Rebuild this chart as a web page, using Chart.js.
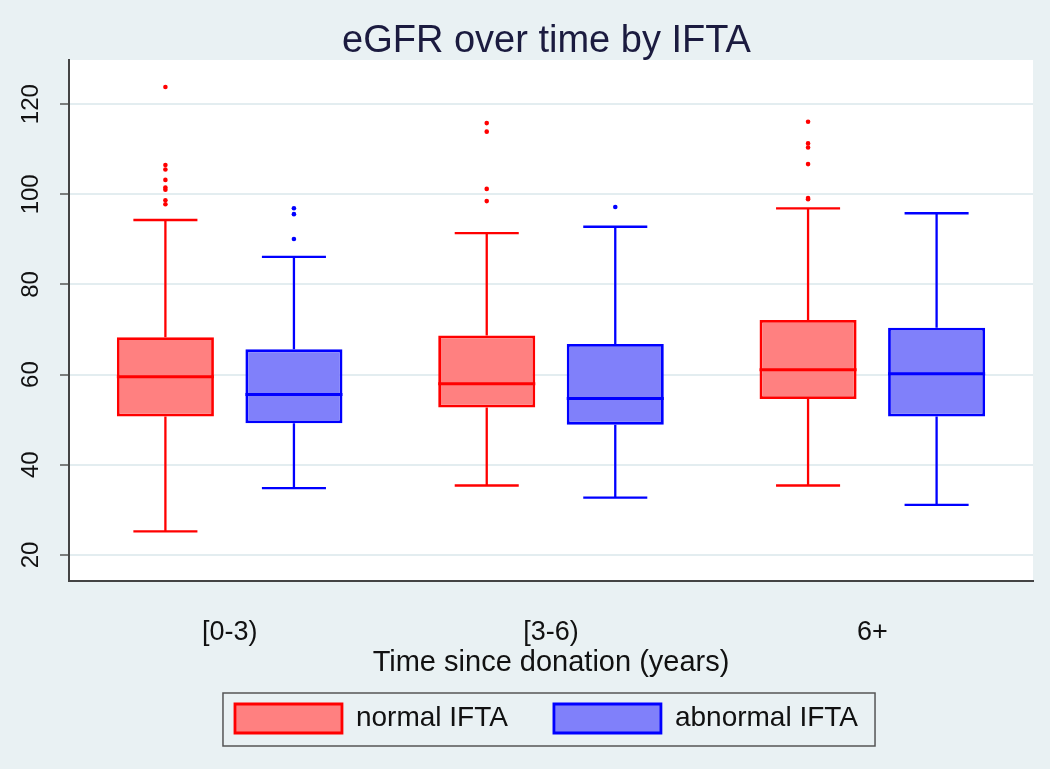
<!DOCTYPE html>
<html lang="en">
<head>
  <meta charset="UTF-8" />
  <title>eGFR over time by IFTA</title>
  <style>
    html, body { margin: 0; padding: 0; background: #e9f1f3; }
    #wrap { width: 1050px; height: 769px; }
  </style>
</head>
<body>
  <div id="wrap"><canvas id="boxChart" width="1050" height="769"></canvas></div>
  <script src="https://cdn.jsdelivr.net/npm/chart.js"></script>
  <script>
    // categories and box statistics
    const categories = ['[0-3)', '[3-6)', '6+'];

    const normalLow = [25.2, 35.4, 35.4];
    const normalQ1 = [50.7, 52.7, 54.6];
    const normalMedian = [59.5, 58.0, 61.1];
    const normalQ3 = [68.3, 68.7, 72.1];
    const normalHigh = [94.3, 91.4, 96.9];
    const normalOutliers = [
      [123.8, 106.5, 105.5, 103.2, 101.5, 101.0, 98.7, 97.8],
      [115.8, 113.9, 101.2, 98.5],
      [116.1, 111.3, 110.4, 106.7, 99.2, 98.9]
    ];

    const abnormalLow = [34.8, 32.7, 31.1];
    const abnormalQ1 = [49.2, 48.9, 50.7];
    const abnormalMedian = [55.6, 54.7, 60.2];
    const abnormalQ3 = [65.6, 66.8, 70.4];
    const abnormalHigh = [86.1, 92.8, 95.8];
    const abnormalOutliers = [
      [96.9, 95.6, 90.1],
      [97.2],
      []
    ];

    const yTicks = [20, 40, 60, 80, 100, 120];

    const FONT = "'Liberation Sans', Arial, sans-serif";

    const stats = [
      { low: normalLow, median: normalMedian, high: normalHigh, outliers: normalOutliers, color: '#ff0000' },
      { low: abnormalLow, median: abnormalMedian, high: abnormalHigh, outliers: abnormalOutliers, color: '#0000ff' }
    ];

    // backgrounds: light page, white plot region
    const backgroundPlugin = {
      id: 'backgrounds',
      beforeDraw(chart) {
        const { ctx, chartArea: a } = chart;
        ctx.save();
        ctx.fillStyle = '#e9f1f3';
        ctx.fillRect(0, 0, chart.width, chart.height);
        ctx.fillStyle = '#ffffff';
        ctx.fillRect(a.left, a.top, a.right - a.left, a.bottom - a.top);
        ctx.restore();
      }
    };

    // whiskers, medians and outlier dots on top of the floating bars
    const boxPlugin = {
      id: 'boxParts',
      afterDatasetsDraw(chart) {
        const { ctx } = chart;
        const y = chart.scales.y;
        stats.forEach((s, di) => {
          const meta = chart.getDatasetMeta(di);
          meta.data.forEach((bar, j) => {
            const { x, width } = bar.getProps(['x', 'width'], true);
            const half = width / 2;
            const cap = width * 0.33;
            const yTop = Math.min(bar.y, bar.base);
            const yBot = Math.max(bar.y, bar.base);
            ctx.save();
            ctx.strokeStyle = s.color;
            ctx.lineWidth = 2.3;
            ctx.beginPath();
            ctx.moveTo(x, yTop);
            ctx.lineTo(x, y.getPixelForValue(s.high[j]));
            ctx.moveTo(x - cap, y.getPixelForValue(s.high[j]));
            ctx.lineTo(x + cap, y.getPixelForValue(s.high[j]));
            ctx.moveTo(x, yBot);
            ctx.lineTo(x, y.getPixelForValue(s.low[j]));
            ctx.moveTo(x - cap, y.getPixelForValue(s.low[j]));
            ctx.lineTo(x + cap, y.getPixelForValue(s.low[j]));
            ctx.stroke();
            ctx.lineWidth = 3;
            ctx.beginPath();
            ctx.moveTo(x - half, y.getPixelForValue(s.median[j]));
            ctx.lineTo(x + half, y.getPixelForValue(s.median[j]));
            ctx.stroke();
            ctx.fillStyle = s.color;
            s.outliers[j].forEach(v => {
              ctx.beginPath();
              ctx.arc(x, y.getPixelForValue(v), 2.3, 0, Math.PI * 2);
              ctx.fill();
            });
            ctx.restore();
          });
        });
      }
    };

    // rotated y tick labels and the frame round the legend
    const decorPlugin = {
      id: 'decor',
      afterDraw(chart) {
        const { ctx } = chart;
        const y = chart.scales.y;
        ctx.save();
        ctx.fillStyle = '#111';
        ctx.font = '24px ' + FONT;
        ctx.textAlign = 'center';
        ctx.textBaseline = 'middle';
        y.ticks.forEach(t => {
          ctx.save();
          ctx.translate(31, y.getPixelForValue(t.value));
          ctx.rotate(-Math.PI / 2);
          ctx.fillText(String(t.value), 0, 0);
          ctx.restore();
        });
        const boxes = chart.legend.legendHitBoxes;
        if (boxes && boxes.length) {
          const left = Math.min(...boxes.map(b => b.left)) - 12;
          const right = Math.max(...boxes.map(b => b.left + b.width)) + 17;
          const top = boxes[0].top - 11;
          const bottom = boxes[0].top + boxes[0].height + 13;
          ctx.globalCompositeOperation = 'destination-over';
          ctx.fillStyle = '#ffffff';
          ctx.fillRect(left, top, right - left, bottom - top);
          ctx.globalCompositeOperation = 'source-over';
          ctx.strokeStyle = '#555';
          ctx.lineWidth = 1.5;
          ctx.strokeRect(left, top, right - left, bottom - top);
        }
        ctx.restore();
      }
    };

    new Chart(document.getElementById('boxChart'), {
      type: 'bar',
      data: {
        labels: categories,
        datasets: [
          {
            label: 'normal IFTA',
            data: normalQ1.map((q, i) => [q, normalQ3[i]]),
            backgroundColor: '#ff8080',
            borderColor: '#ff0000',
            borderWidth: 2.8,
            borderSkipped: false
          },
          {
            label: 'abnormal IFTA',
            data: abnormalQ1.map((q, i) => [q, abnormalQ3[i]]),
            backgroundColor: '#8080fa',
            borderColor: '#0000ff',
            borderWidth: 2.8,
            borderSkipped: false
          }
        ]
      },
      options: {
        responsive: false,
        animation: false,
        categoryPercentage: 0.8,
        barPercentage: 0.755,
        layout: { padding: { left: 60, right: 17, top: 0, bottom: 26 } },
        plugins: {
          tooltip: { enabled: false },
          title: {
            display: true,
            text: 'eGFR over time by IFTA',
            color: '#1b1b3f',
            font: { family: FONT, size: 38, weight: 'normal', lineHeight: 1 },
            padding: { top: 23, bottom: -1 }
          },
          legend: {
            position: 'bottom',
            labels: {
              color: '#111',
              font: { family: FONT, size: 28 },
              boxWidth: 107,
              boxHeight: 29,
              padding: 46
            }
          }
        },
        scales: {
          x: {
            grid: { display: false, drawTicks: false },
            border: { display: true, color: '#444', width: 2 },
            ticks: { color: '#111', font: { family: FONT, size: 27, lineHeight: 1.2 }, padding: 36 },
            title: {
              display: true,
              text: 'Time since donation (years)',
              color: '#111',
              font: { family: FONT, size: 29, lineHeight: 1 },
              padding: { top: -37, bottom: -19 }
            }
          },
          y: {
            min: 14.3,
            max: 129.8,
            afterBuildTicks: axis => { axis.ticks = yTicks.map(v => ({ value: v })); },
            grid: { color: '#e3edf0', lineWidth: 2, tickLength: 9, tickColor: '#555', tickWidth: 1.5 },
            border: { display: true, color: '#444', width: 2 },
            ticks: { display: false }
          }
        }
      },
      plugins: [backgroundPlugin, boxPlugin, decorPlugin]
    });
  </script>
</body>
</html>
